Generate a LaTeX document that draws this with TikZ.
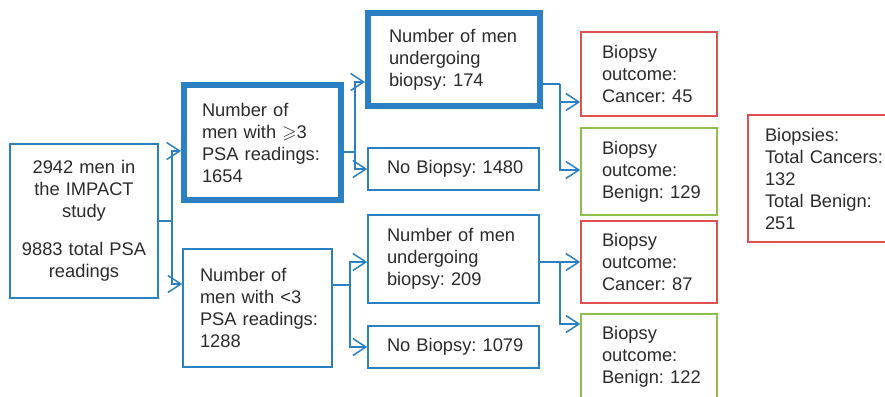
\documentclass[tikz,border=0pt]{standalone}
\usepackage{fontspec}
\setmainfont{Liberation Sans}
\usepackage{amssymb}
\usetikzlibrary{arrows.meta}
\definecolor{bl}{HTML}{2A80C2}
\definecolor{rd}{HTML}{E0504F}
\definecolor{gn}{HTML}{8DC04B}
\definecolor{tx}{HTML}{2B2B2B}
\begin{document}
\begin{tikzpicture}[x=1pt,y=-1pt,
  bx/.style={draw=bl, line width=1.5pt, text=tx, font=\fontsize{18.3}{22}\selectfont, align=left, inner ysep=0pt,
    execute at begin node={\hyphenpenalty=10000\exhyphenpenalty=10000}},
  heavy/.style={line width=6pt},
  redbox/.style={draw=rd},
  greenbox/.style={draw=gn},
  ln/.style={draw=bl, line width=1.5pt},
  arr/.style={draw=bl, line width=1.5pt, -{Straight Barb[length=13pt,width=17pt]}}
]
\useasboundingbox (0,0) rectangle (885,396);

\node[bx, align=center, minimum width=148pt, minimum height=154pt, inner xsep=9pt, text width=130pt] (b1) at (84,221)
  {2942~men~in\\the~IMPACT\\study\\[16pt]9883~total~PSA\\readings};
\node[bx, heavy, minimum width=157pt, minimum height=115pt, inner xsep=18pt, text width=121pt] (b2) at (262.5,142.5)
  {Number~of\\men~with~$\geqslant$3\\PSA~readings:\\1654};
\node[bx, minimum width=149pt, minimum height=118pt, inner xsep=17pt, text width=115pt] (b3) at (257.5,308)
  {Number~of\\men~with~<3\\PSA~readings:\\1288};
\node[bx, heavy, minimum width=172pt, minimum height=93pt, inner xsep=21pt, text width=130pt] (b4) at (454,59.5)
  {Number~of~men\\undergoing\\biopsy:~174};
\node[bx, minimum width=171pt, minimum height=42pt, inner xsep=19pt, text width=133pt] (b5) at (453.5,169)
  {No~Biopsy:~1480};
\node[bx, minimum width=171pt, minimum height=88pt, inner xsep=19pt, text width=133pt] (b6) at (453.5,259)
  {Number~of~men\\undergoing\\biopsy:~209};
\node[bx, minimum width=171pt, minimum height=42pt, inner xsep=19pt, text width=133pt] (b7) at (453.5,347)
  {No~Biopsy:~1079};
\node[bx, redbox, minimum width=136pt, minimum height=84pt, inner xsep=21pt, text width=94pt] (c45) at (649,74)
  {Biopsy\\outcome:\\Cancer:~45};
\node[bx, greenbox, minimum width=136pt, minimum height=87pt, inner xsep=21pt, text width=94pt] (n129) at (649,171.5)
  {Biopsy\\outcome:\\Benign:~129};
\node[bx, redbox, minimum width=136pt, minimum height=82pt, inner xsep=21pt, text width=94pt] (c87) at (649,262)
  {Biopsy\\outcome:\\Cancer:~87};
\node[bx, greenbox, minimum width=136pt, minimum height=85pt, inner xsep=21pt, text width=94pt] (n122) at (649,356.5)
  {Biopsy\\outcome:\\Benign:~122};
\node[bx, redbox, minimum width=157pt, minimum height=127pt, inner xsep=17pt, text width=123pt] (tot) at (826.5,178.5)
  {Biopsies:\\Total~Cancers:\\132\\Total~Benign:\\251};

\coordinate (s1) at (172,221);
\coordinate (s2) at (355,152);
\coordinate (s3) at (560,84);
\coordinate (s4) at (350,285);
\coordinate (s5) at (560,262);

\draw[ln] (b1.east) -- (s1);
\draw[arr] (s1) |- ([yshift=-8.5pt]b2.west);
\draw[arr] (s1) |- ([yshift=24pt]b3.west);

\draw[ln] ([yshift=-9.5pt]b2.east) -- (s2);
\draw[arr] (s2) |- ([yshift=-22.5pt]b4.west);
\draw[arr] (s2) |- (b5.west);

\draw[ln] ([yshift=-24.5pt]b4.east) -- (s3);
\draw[arr] (s3) |- ([yshift=-28pt]c45.west);
\draw[arr] (s3) |- ([yshift=1.5pt]n129.west);

\draw[ln] ([yshift=23pt]b3.east) -- (s4);
\draw[arr] (s4) |- ([yshift=-3pt]b6.west);
\draw[arr] (s4) |- (b7.west);

\draw[ln] ([yshift=-3pt]b6.east) -- (s5);
\draw[arr] (s5) -- (c87.west);
\draw[arr] (s5) |- ([yshift=32.5pt]n122.west);
\end{tikzpicture}
\end{document}
